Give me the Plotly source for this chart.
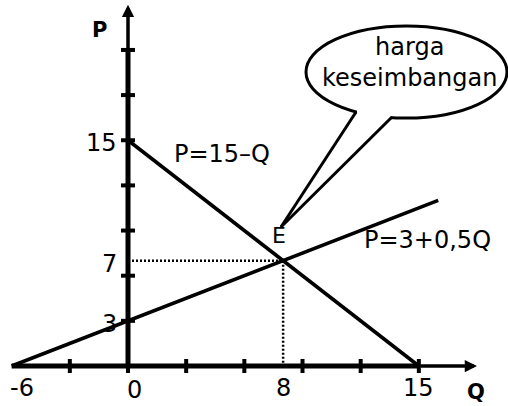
import plotly.graph_objects as go

# ---- data ----
demand_q = [0, 15]
demand_p = [15, 0]
supply_q = [-6, 8, 16]
supply_p = [0, 7, 11]
eq_q = 8
eq_p = 7
x_tick_vals = [-3, 0, 3, 6, 9, 12, 15]
y_tick_vals = [3, 6, 9, 12, 15, 18, 21]
x_label_vals = [-6, 0, 8, 15]
x_label_text = ["-6", "0", "8", "15"]
y_label_vals = [15, 7, 3]
y_label_text = ["15", "7", "3"]
x_axis_ext = [-6, 15, 18]   # start, end of thick part, arrow tip
y_axis_ext = [0, 21, 24]
demand_label = "P=15–Q"
supply_label = "P=3+0,5Q"
bubble_text = "harga<br>keseimbangan"

W, H = 508, 406
X0, SX = 128, 19.39
Y0, SY = 366, 15.05
FONT = "DejaVu Sans, Verdana, sans-serif"
FS = 24


def px(x):
    return x / W


def py(y):
    return 1 - y / H


fig = go.Figure()

# dotted guide lines
fig.add_trace(go.Scatter(x=[0, eq_q], y=[eq_p, eq_p], mode="lines",
                         line=dict(color="black", width=2.5, dash="2px,2px")))
fig.add_trace(go.Scatter(x=[eq_q, eq_q], y=[eq_p, 0], mode="lines",
                         line=dict(color="black", width=2.5, dash="2px,2px")))
# demand & supply
fig.add_trace(go.Scatter(x=demand_q, y=demand_p, mode="lines",
                         line=dict(color="black", width=3.5)))
fig.add_trace(go.Scatter(x=supply_q, y=supply_p, mode="lines",
                         line=dict(color="black", width=3.5)))
# axes (thick parts)
fig.add_trace(go.Scatter(x=x_axis_ext[:2], y=[0, 0], mode="lines",
                         line=dict(color="black", width=5)))
fig.add_trace(go.Scatter(x=[0, 0], y=y_axis_ext[:2], mode="lines",
                         line=dict(color="black", width=5)))
# tick marks
fig.add_trace(go.Scatter(x=x_tick_vals, y=[0] * len(x_tick_vals), mode="markers",
                         marker=dict(symbol="line-ns", size=10,
                                     line=dict(color="black", width=4))))
fig.add_trace(go.Scatter(x=[0] * len(y_tick_vals), y=y_tick_vals, mode="markers",
                         marker=dict(symbol="line-ew", size=10,
                                     line=dict(color="black", width=4))))

ann = []
# axis arrows (thin parts)
ann.append(dict(x=x_axis_ext[2], y=0, ax=x_axis_ext[1], ay=0, xref="x", yref="y",
                axref="x", ayref="y", text="", showarrow=True, arrowhead=2,
                arrowwidth=3.5, arrowsize=0.7, arrowcolor="black"))
ann.append(dict(x=0, y=y_axis_ext[2], ax=0, ay=y_axis_ext[1], xref="x", yref="y",
                axref="x", ayref="y", text="", showarrow=True, arrowhead=2,
                arrowwidth=3.5, arrowsize=0.7, arrowcolor="black"))


def txt(x, y, t, size=FS, xanchor="center", **kw):
    d = dict(x=x, y=y, text=t, showarrow=False, xanchor=xanchor, yanchor="middle",
             font=dict(family=FONT, size=size, color="black"))
    d.update(kw)
    return d


# tick labels
x_label_dx = {"-6": 10, "0": 6}
x_label_dy = {"0": -24}
for v, t in zip(x_label_vals, x_label_text):
    ann.append(txt(v, 0, t, xref="x", yref="y",
                   yshift=x_label_dy.get(t, -22), xshift=x_label_dx.get(t, 0)))
for v, t in zip(y_label_vals, y_label_text):
    ann.append(txt(0, v, t, xanchor="right", xref="x", yref="y",
                   xshift=-9, yshift=-3))

# line labels
ann.append(txt(px(172), py(154), demand_label, xanchor="left",
               xref="paper", yref="paper"))
ann.append(txt(px(362), py(240), supply_label, xanchor="left",
               xref="paper", yref="paper"))
ann.append(txt(px(279), py(235), "E", size=22, xref="paper", yref="paper"))
# axis titles
ann.append(txt(px(99), py(30), "<b>P</b>", size=21, xref="paper", yref="paper"))
ann.append(txt(px(476), py(392), "<b>Q</b>", size=21, xref="paper", yref="paper"))
# bubble text
ann.append(txt(px(409), py(63), bubble_text, xref="paper", yref="paper"))

shapes = [
    dict(type="circle", xref="paper", yref="paper", x0=px(306), x1=px(507),
         y0=py(118), y1=py(26), line=dict(color="black", width=3),
         fillcolor="white", layer="below"),
    dict(type="path", xref="paper", yref="paper",
         path=f"M {px(357)},{py(108)} L {px(391)},{py(113)} L {px(391)},{py(123)} "
              f"L {px(357)},{py(118)} Z",
         fillcolor="white", line=dict(width=0), layer="below"),
    dict(type="line", xref="paper", yref="paper", x0=px(356), y0=py(112),
         x1=px(281), y1=py(227), line=dict(color="black", width=3)),
    dict(type="line", xref="paper", yref="paper", x0=px(392), y0=py(117),
         x1=px(281), y1=py(227), line=dict(color="black", width=3)),
]

fig.update_layout(
    width=W, height=H, margin=dict(l=0, r=0, t=0, b=0),
    paper_bgcolor="white", plot_bgcolor="white", showlegend=False,
    xaxis=dict(range=[-X0 / SX, (W - X0) / SX], visible=False, fixedrange=True),
    yaxis=dict(range=[-(H - Y0) / SY, Y0 / SY], visible=False, fixedrange=True),
    annotations=ann, shapes=shapes,
)

fig.write_html("out.html", config={"displayModeBar": False},
               post_script="document.body.style.margin='0';"
                           "document.body.style.overflow='hidden';")
